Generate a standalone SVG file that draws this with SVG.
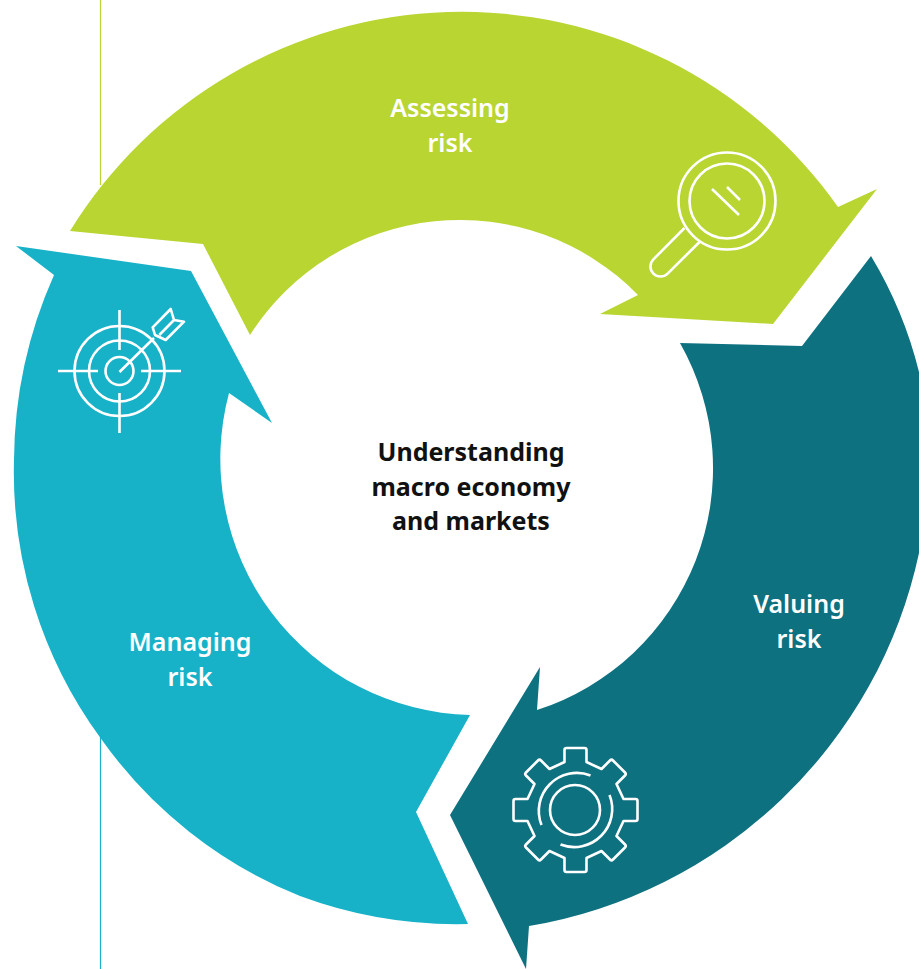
<svg xmlns="http://www.w3.org/2000/svg" width="919" height="969" viewBox="0 0 919 969">
<style>
.lbl{font-family:"Noto Sans","Open Sans",sans-serif;font-weight:600;font-size:25px;fill:#fff;text-anchor:middle}
.ctr{fill:#111;font-weight:700}
.ic{fill:none;stroke:#fff;stroke-width:2.6;stroke-linejoin:round;stroke-linecap:butt}
</style>
<rect width="919" height="969" fill="#fff"/>
<g id="rules">
<line x1="100.500" y1="0" x2="100.500" y2="185" stroke="#b9d532" stroke-width="1.2"/>
<line x1="100.500" y1="730" x2="100.500" y2="969" stroke="#17b2c8" stroke-width="1.2"/>
</g>
<g id="assessing">
<path fill="#b9d532" d="M70 231A460 460 0 0 1 838 207L877 189L773 324L600 314L638 295A249 249 0 0 0 250 335L203 244Z"/>
<text class="lbl" x="450" y="117">Assessing</text>
<text class="lbl" x="450" y="152">risk</text>
<g class="ic">
<circle cx="727" cy="201" r="48.500"/>
<circle cx="727" cy="201" r="37.500"/>
<path d="M684.500 228L653.400 259.400A10 10 0 0 0 667.600 273.600L699.500 242"/>
<path d="M712 189L739 215M727 187L740 200"/>
</g>
</g>
<g id="valuing">
<path fill="#0e7180" d="M871 256A420 420 0 0 1 919 372L935 460L919 553A480 480 0 0 1 529 926L526 969L450 815L540 667L537 710A254 254 0 0 0 680 343L802 346Z"/>
<text class="lbl" x="799" y="613">Valuing</text>
<text class="lbl" x="799" y="648">risk</text>
<g class="ic" transform="translate(575.500 810)">
<path d="M-11-48V-60Q-11-62-9-62H9Q11-62 11-60V-48L26-41L34.500-49.500Q36-51 37.500-49.500L49.500-37.500Q51-36 49.500-34.500L41-26L48-11H60Q62-11 62-9V9Q62 11 60 11H48L41 26L49.500 34.500Q51 36 49.500 37.500L37.500 49.500Q36 51 34.500 49.500L26 41L11 48V60Q11 62 9 62H-9Q-11 62-11 60V48L-26 41L-34.500 49.500Q-36 51-37.500 49.500L-49.500 37.500Q-51 36-49.500 34.500L-41 26L-48 11H-60Q-62 11-62 9V-9Q-62-11-60-11H-48L-41-26L-49.500-34.500Q-51-36-49.500-37.500L-37.500-49.500Q-36-51-34.500-49.500L-26-41Z"/>
<circle cx="-0.500" cy="0" r="25"/>
<path d="M-34 15A38 38 0 0 1 15-34.500M34-15A38 38 0 0 1-15 34.500"/>
</g>
</g>
<g id="managing">
<path fill="#17b2c8" d="M16 246L191 271L272 423L229 393A256 256 0 0 0 470 715L416 812L468 924A450 450 0 0 1 300 896A450 450 0 0 1 100.500 738A450 450 0 0 1 14 460A462 462 0 0 1 54 275Z"/>
<text class="lbl" x="190" y="651">Managing</text>
<text class="lbl" x="190" y="686">risk</text>
<g class="ic">
<circle cx="119.500" cy="371" r="45"/>
<circle cx="119.500" cy="371" r="30.500"/>
<circle cx="119.500" cy="371" r="14"/>
<path d="M119.500 310V350M119.500 393V433M58 371H98M141 371H181"/>
<path d="M119.500 372L154 338M152.700 327.300L170.700 309L174 320L184 321.700L165.700 340L155 335ZM174 320L159.300 335"/>
</g>
</g>
<g id="center">
<text class="lbl ctr" x="471" y="461">Understanding</text>
<text class="lbl ctr" x="471" y="496">macro economy</text>
<text class="lbl ctr" x="471" y="530">and markets</text>
</g>
</svg>
